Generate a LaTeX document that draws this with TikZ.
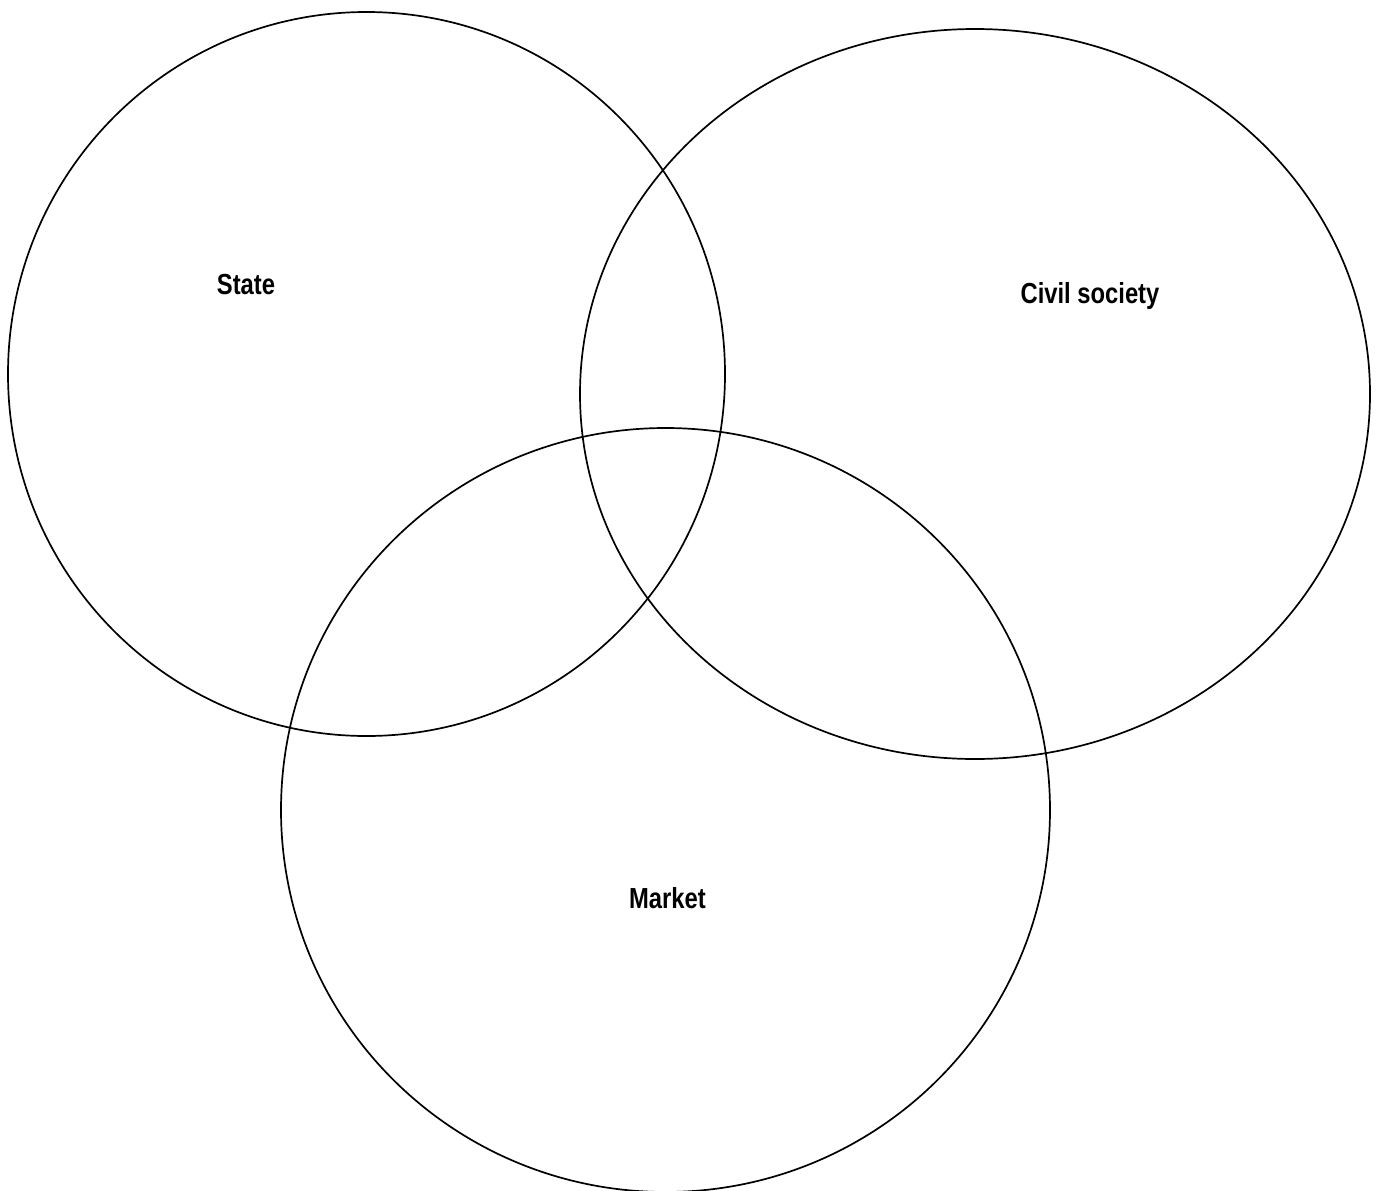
\documentclass[tikz,border=0pt]{standalone}
\usepackage{fontspec}
\setmainfont{Liberation Sans}[FakeStretch=0.82]
\begin{document}
\begin{tikzpicture}[x=1pt,y=-1pt,
  venn/.style={draw=black,line width=1.7pt},
  lbl/.style={font=\fontsize{29}{34}\selectfont\bfseries,anchor=base,inner sep=0pt}]
\useasboundingbox (0,0) rectangle (1376,1191);
\draw[venn] (366.5,374) ellipse [x radius=358.5,y radius=362];
\draw[venn] (975,394) ellipse [x radius=395,y radius=365];
\draw[venn] (665.5,810) ellipse [x radius=384.5,y radius=382];
\node[lbl] (state) at (246,294) {State};
\node[lbl] (civil) at (1090,303) {Civil society};
\node[lbl] (market) at (667.5,908) {Market};
\end{tikzpicture}
\end{document}
